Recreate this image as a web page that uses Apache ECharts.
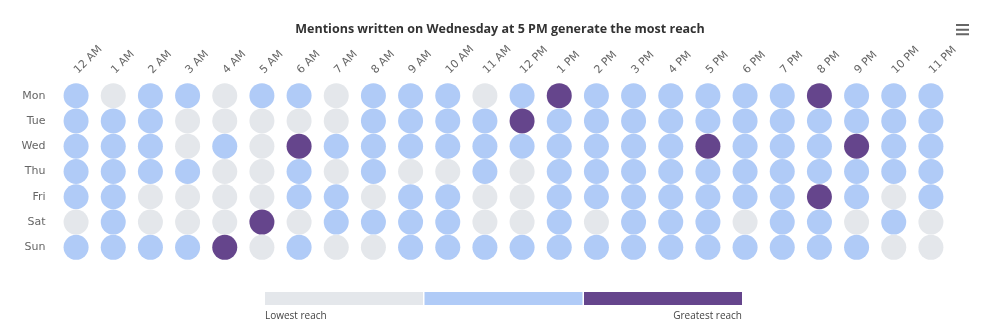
<!DOCTYPE html>
<html>
<head>
<meta charset="utf-8">
<script src="https://cdn.jsdelivr.net/npm/echarts@6/dist/echarts.min.js"></script>
<style>
  html, body { margin: 0; padding: 0; background: #fff; }
  #chart { width: 1000px; height: 332px; }
</style>
</head>
<body>
<div id="chart"></div>
<script>
// Hours of the day (columns) and days of the week (rows)
const hours = ['12 AM','1 AM','2 AM','3 AM','4 AM','5 AM','6 AM','7 AM','8 AM','9 AM','10 AM','11 AM',
               '12 PM','1 PM','2 PM','3 PM','4 PM','5 PM','6 PM','7 PM','8 PM','9 PM','10 PM','11 PM'];
const days = ['Mon','Tue','Wed','Thu','Fri','Sat','Sun'];

// Reach level per hour: 0 = lowest, 1 = medium, 2 = greatest
const mon = [1,0,1,1,0,1,1,0,1,1,1,0, 1,2,1,1,1,1,1,1,2,1,1,1];
const tue = [1,1,1,0,0,0,0,0,1,1,1,1, 2,1,1,1,1,1,1,1,1,1,1,1];
const wed = [1,1,1,0,1,0,2,1,1,1,1,1, 1,1,1,1,1,2,1,1,1,2,1,1];
const thu = [1,1,1,1,0,0,1,0,1,0,0,1, 0,1,1,1,1,1,1,1,1,1,1,1];
const fri = [1,1,0,0,0,0,1,1,0,1,1,0, 0,1,1,1,1,1,1,1,2,1,0,1];
const sat = [0,1,0,0,0,2,0,1,1,1,1,0, 0,1,0,1,1,1,0,1,1,0,1,0];
const sun = [1,1,1,1,2,0,1,0,0,1,1,1, 1,1,1,1,1,1,1,1,1,1,0,0];

const levelColors = ['#e4e7eb', '#b0cbf7', '#65458c'];

const rows = [mon, tue, wed, thu, fri, sat, sun];
const points = [];
rows.forEach((row, d) => row.forEach((v, h) => points.push([h, d, v])));

const chart = echarts.init(document.getElementById('chart'), null, { renderer: 'canvas' });
const font = 'DejaVu Sans, sans-serif';
const sans = '"Open Sans", sans-serif';

chart.setOption({
  animation: false,
  backgroundColor: '#fff',
  title: {
    text: 'Mentions written on Wednesday at 5 PM generate the most reach',
    left: 'center',
    top: 18,
    textStyle: { fontFamily: sans, fontSize: 12.5, fontWeight: 'bold', color: '#333' }
  },
  toolbox: {
    right: 31,
    top: 24,
    padding: 0,
    itemSize: 13,
    feature: {
      myMenu: {
        show: true,
        title: 'Menu',
        icon: 'path://M0,0H14V2.2H0ZM0,5H14V7.2H0ZM0,10H14V12.2H0Z',
        onclick: function () {}
      }
    },
    iconStyle: { color: '#666', borderWidth: 0 },
    emphasis: { iconStyle: { color: '#333', borderWidth: 0 } }
  },
  grid: { left: 57.5, right: 50.5, top: 83, bottom: 72 },
  xAxis: {
    type: 'category',
    position: 'top',
    data: hours,
    axisLine: { show: false },
    axisTick: { show: false },
    splitLine: { show: false },
    axisLabel: { rotate: -45, margin: 11, fontFamily: font, fontSize: 11, color: '#666', interval: 0 }
  },
  yAxis: {
    type: 'category',
    data: days,
    inverse: true,
    axisLine: { show: false },
    axisTick: { show: false },
    splitLine: { show: false },
    axisLabel: { margin: 12, fontFamily: font, fontSize: 11, color: '#666' }
  },
  visualMap: {
    type: 'piecewise',
    orient: 'horizontal',
    left: 265,
    top: 292,
    padding: 0,
    itemWidth: 158,
    itemHeight: 13,
    itemGap: 1.5,
    itemSymbol: 'rect',
    showLabel: false,
    selectedMode: false,
    dimension: 2,
    pieces: [
      { value: 0, color: levelColors[0] },
      { value: 1, color: levelColors[1] },
      { value: 2, color: levelColors[2] }
    ]
  },
  graphic: [
    { type: 'text', left: 265, top: 311, z: 10, style: { text: 'Lowest reach', font: '10px ' + sans, fill: '#444' } },
    { type: 'text', right: 258, top: 311, z: 10, style: { text: 'Greatest reach', font: '10px ' + sans, fill: '#444' } }
  ],
  series: [{
    type: 'scatter',
    symbol: 'circle',
    symbolSize: 25,
    data: points,
    itemStyle: { opacity: 1 },
    emphasis: { disabled: true }
  }]
});
</script>
</body>
</html>
